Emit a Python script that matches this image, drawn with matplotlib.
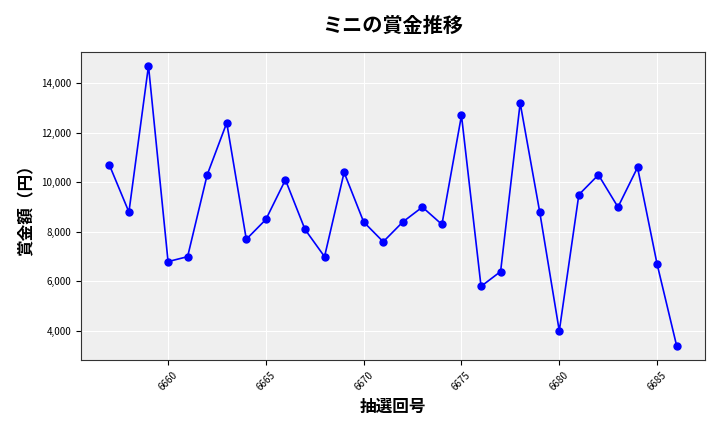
import matplotlib
matplotlib.use("Agg")
import matplotlib.pyplot as plt
from matplotlib.ticker import FuncFormatter

plt.rcParams['font.family'] = ['Noto Sans CJK JP', 'DejaVu Sans']

draws = list(range(6657, 6687))
prizes = [10700, 8800, 14700, 6800, 7000, 10300, 12400, 7700, 8500, 10100,
          8100, 7000, 10400, 8400, 7600, 8400, 9000, 8300, 12700, 5800,
          6400, 13200, 8800, 4000, 9500, 10300, 9000, 10600, 6700, 3400]

fig = plt.figure(figsize=(7.2, 4.32), dpi=100)
ax = fig.add_axes([0.1125, 0.167, 0.8667, 0.713])
ax.set_facecolor('#efefef')
ax.grid(True, color='white', linewidth=0.8)
ax.set_axisbelow(True)
ax.plot(draws, prizes, color='blue', marker='o', markersize=5, linewidth=1.2)
for s in ax.spines.values():
    s.set_color('#333333')
ax.yaxis.set_major_formatter(FuncFormatter(lambda v, p: f"{int(v):,}"))
ax.set_xticks([6660, 6665, 6670, 6675, 6680, 6685])
ax.tick_params(axis='x', labelrotation=45, labelsize=7)
ax.tick_params(axis='y', labelsize=7)
ax.set_xlabel('抽選回号', fontsize=12, fontweight='bold')
ax.set_ylabel('賞金額（円）', fontsize=12, fontweight='bold')
ax.set_title('ミニの賞金推移', fontsize=14.5, fontweight='bold', pad=14)
fig.savefig('out.png', dpi=100)
